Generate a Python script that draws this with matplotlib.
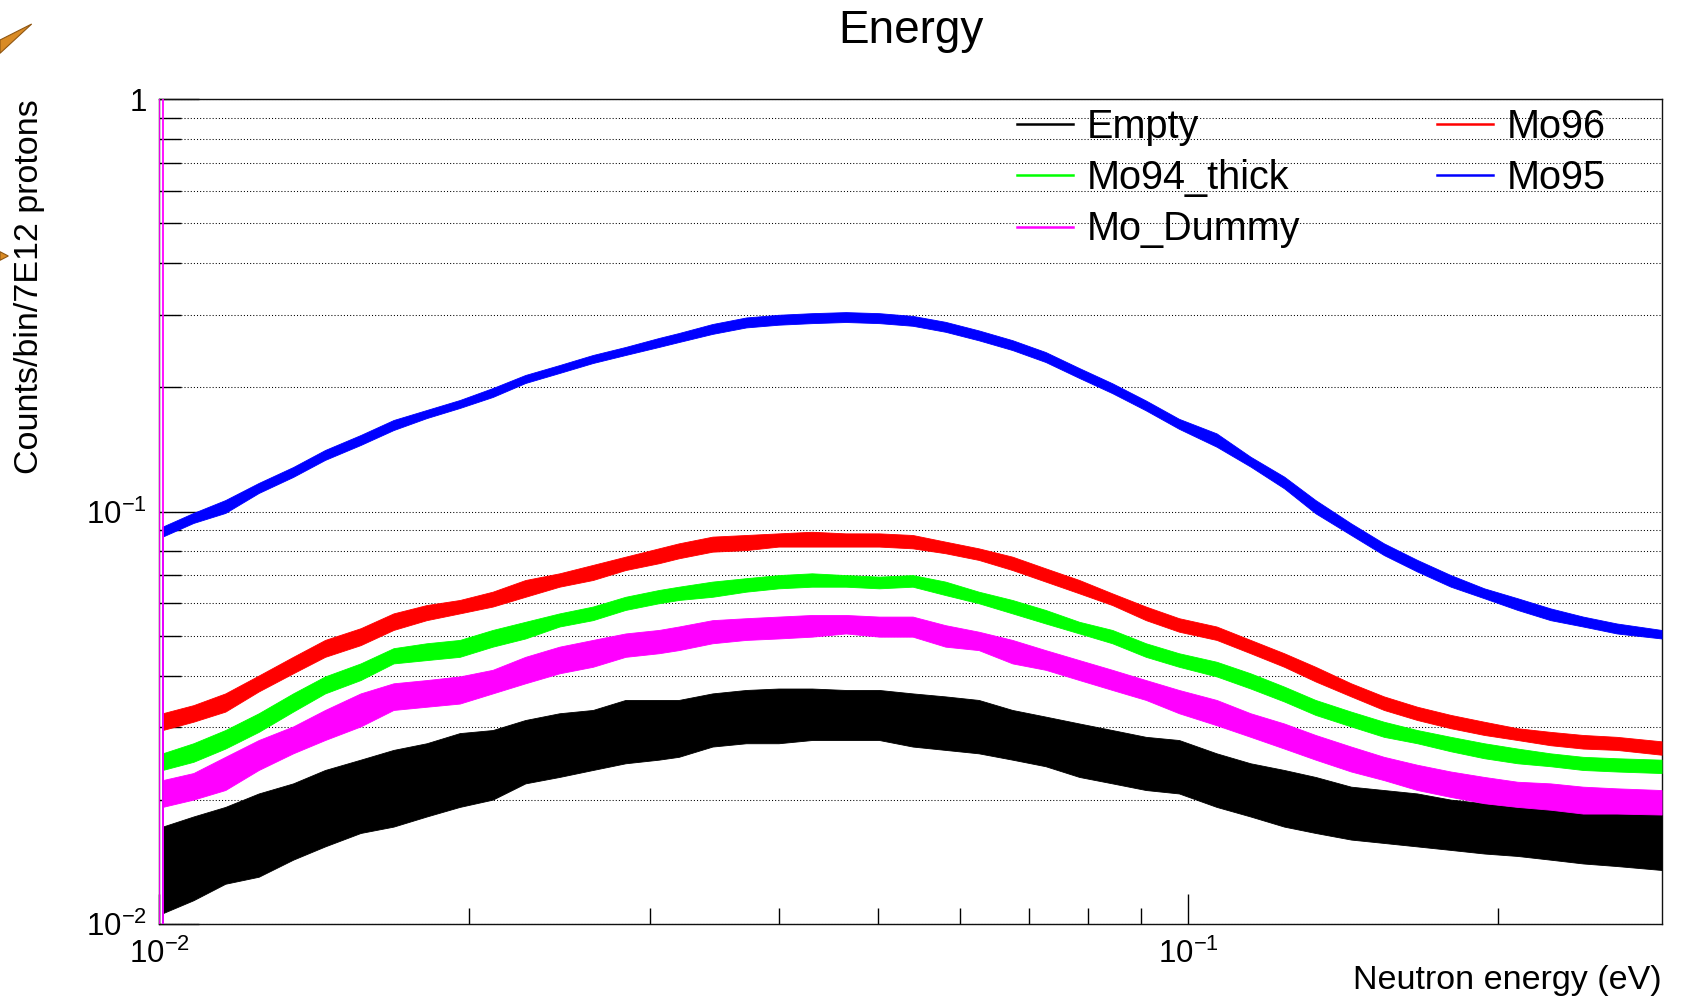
import matplotlib
matplotlib.use("Agg")
import matplotlib.pyplot as plt
import matplotlib.ticker as ticker
import numpy as np
from matplotlib.lines import Line2D
from matplotlib.patches import Polygon

plt.rcParams["font.family"] = ["Liberation Sans", "DejaVu Sans"]
plt.rcParams["mathtext.fontset"] = "custom"
plt.rcParams["mathtext.rm"] = "Liberation Sans"
plt.rcParams["mathtext.it"] = "Liberation Sans:italic"
plt.rcParams["mathtext.bf"] = "Liberation Sans:bold"

# Neutron energy sample points (eV)
energy = np.array([
    0.01008, 0.0108, 0.0116, 0.0125, 0.0135, 0.0145, 0.0157, 0.0169, 0.0182, 0.0196,
    0.0211, 0.0227, 0.0245, 0.0264, 0.0284, 0.0306, 0.0320,
    0.0345, 0.0372, 0.0400, 0.0431, 0.0465, 0.0501, 0.0540, 0.0581, 0.0626, 0.0675,
    0.0727, 0.0784, 0.0844, 0.0910, 0.0980,
    0.1066, 0.115, 0.124, 0.133, 0.144, 0.155, 0.167, 0.180, 0.194, 0.209,
    0.225, 0.242, 0.261, 0.2885,
])

# Band of the fluctuating counts per bin (lower / upper edge) for each target
empty_lo = [0.0106, 0.0114, 0.0125, 0.0130, 0.0143, 0.0154, 0.0166, 0.0172, 0.0182, 0.0192,
            0.0200, 0.0219, 0.0227, 0.0236, 0.0245, 0.0250, 0.0254,
            0.0269, 0.0274, 0.0274, 0.0279, 0.0279, 0.0279, 0.0269, 0.0264, 0.0259, 0.0250,
            0.0241, 0.0227, 0.0219, 0.0211, 0.0207,
            0.0192, 0.0182, 0.0172, 0.0166, 0.0160, 0.0157, 0.0154, 0.0151, 0.0148, 0.0146,
            0.0143, 0.0140, 0.0138, 0.0135]
empty_hi = [0.0172, 0.0182, 0.0192, 0.0207, 0.0219, 0.0236, 0.0250, 0.0264, 0.0274, 0.0290,
            0.0295, 0.0312, 0.0324, 0.0330, 0.0349, 0.0349, 0.0349,
            0.0362, 0.0369, 0.0372, 0.0372, 0.0369, 0.0369, 0.0362, 0.0356, 0.0349, 0.0330,
            0.0318, 0.0306, 0.0295, 0.0284, 0.0279,
            0.0259, 0.0245, 0.0236, 0.0227, 0.0215, 0.0211, 0.0207, 0.0200, 0.0196, 0.0192,
            0.0192, 0.0191, 0.0189, 0.0189]

mo94_lo = [0.0236, 0.0247, 0.0266, 0.0292, 0.0327, 0.0362, 0.0390, 0.0428, 0.0436, 0.0444,
           0.0470, 0.0492, 0.0526, 0.0545, 0.0577, 0.0599, 0.0610,
           0.0621, 0.0639, 0.0651, 0.0657, 0.0657, 0.0651, 0.0657, 0.0627, 0.0599, 0.0566,
           0.0535, 0.0506, 0.0479, 0.0444, 0.0420,
           0.0398, 0.0372, 0.0346, 0.0321, 0.0301, 0.0284, 0.0274, 0.0262, 0.0252, 0.0245,
           0.0241, 0.0236, 0.0234, 0.0232]
mo94_hi = [0.0259, 0.0274, 0.0295, 0.0324, 0.0362, 0.0398, 0.0428, 0.0466, 0.0479, 0.0488,
           0.0516, 0.0540, 0.0566, 0.0588, 0.0621, 0.0645, 0.0657,
           0.0676, 0.0689, 0.0701, 0.0708, 0.0701, 0.0695, 0.0701, 0.0676, 0.0639, 0.0610,
           0.0577, 0.0540, 0.0516, 0.0479, 0.0453,
           0.0432, 0.0405, 0.0376, 0.0349, 0.0327, 0.0309, 0.0295, 0.0284, 0.0274, 0.0266,
           0.0259, 0.0254, 0.0252, 0.0250]

dummy_lo = [0.0192, 0.0200, 0.0211, 0.0236, 0.0259, 0.0279, 0.0301, 0.0330, 0.0336, 0.0342,
            0.0362, 0.0383, 0.0405, 0.0420, 0.0444, 0.0453, 0.0461,
            0.0479, 0.0488, 0.0492, 0.0497, 0.0506, 0.0497, 0.0497, 0.0470, 0.0461, 0.0428,
            0.0413, 0.0390, 0.0369, 0.0349, 0.0324,
            0.0303, 0.0284, 0.0266, 0.0250, 0.0234, 0.0223, 0.0211, 0.0203, 0.0196, 0.0192,
            0.0189, 0.0185, 0.0185, 0.0184]
dummy_hi = [0.0223, 0.0232, 0.0254, 0.0279, 0.0301, 0.0330, 0.0362, 0.0383, 0.0390, 0.0398,
            0.0413, 0.0444, 0.0470, 0.0488, 0.0506, 0.0516, 0.0526,
            0.0545, 0.0551, 0.0556, 0.0561, 0.0561, 0.0556, 0.0556, 0.0530, 0.0511, 0.0488,
            0.0461, 0.0436, 0.0413, 0.0390, 0.0369,
            0.0349, 0.0324, 0.0306, 0.0287, 0.0269, 0.0254, 0.0243, 0.0234, 0.0227, 0.0221,
            0.0219, 0.0215, 0.0213, 0.0211]
# Mo_Dummy first bin (edges in eV, content) runs off the top of the frame
dummy_first_bin = [0.0100, 0.01008]
dummy_first_count = 1.5

mo96_lo = [0.0295, 0.0309, 0.0327, 0.0366, 0.0405, 0.0444, 0.0474, 0.0516, 0.0545, 0.0566,
           0.0588, 0.0621, 0.0657, 0.0682, 0.0721, 0.0749, 0.0770,
           0.0799, 0.0806, 0.0822, 0.0822, 0.0822, 0.0822, 0.0814, 0.0792, 0.0763, 0.0721,
           0.0676, 0.0633, 0.0593, 0.0545, 0.0511,
           0.0488, 0.0453, 0.0420, 0.0387, 0.0356, 0.0330, 0.0312, 0.0298, 0.0287, 0.0279,
           0.0271, 0.0266, 0.0264, 0.0257]
mo96_hi = [0.0324, 0.0339, 0.0362, 0.0400, 0.0444, 0.0488, 0.0521, 0.0566, 0.0593, 0.0610,
           0.0639, 0.0682, 0.0708, 0.0742, 0.0777, 0.0814, 0.0837,
           0.0869, 0.0877, 0.0885, 0.0893, 0.0885, 0.0885, 0.0877, 0.0845, 0.0814, 0.0777,
           0.0728, 0.0682, 0.0633, 0.0588, 0.0551,
           0.0526, 0.0488, 0.0453, 0.0420, 0.0383, 0.0356, 0.0336, 0.0321, 0.0309, 0.0298,
           0.0292, 0.0287, 0.0284, 0.0277]

mo95_lo = [0.0869, 0.0938, 0.0992, 0.1109, 0.1213, 0.1334, 0.1450, 0.1576, 0.1685, 0.1783,
           0.1896, 0.2050, 0.2168, 0.2292, 0.2397, 0.2507, 0.2577,
           0.2697, 0.2796, 0.2839, 0.2864, 0.2882, 0.2864, 0.2822, 0.2729, 0.2602, 0.2464,
           0.2305, 0.2108, 0.1937, 0.1759, 0.1587,
           0.1436, 0.1285, 0.1138, 0.0990, 0.0877, 0.0784, 0.0715, 0.0657, 0.0616, 0.0577,
           0.0545, 0.0526, 0.0506, 0.0492]
mo95_hi = [0.0919, 0.0992, 0.1066, 0.1173, 0.1282, 0.1410, 0.1533, 0.1667, 0.1763, 0.1864,
           0.1993, 0.2144, 0.2266, 0.2397, 0.2507, 0.2636, 0.2710,
           0.2850, 0.2956, 0.3001, 0.3028, 0.3046, 0.3028, 0.2982, 0.2885, 0.2750, 0.2604,
           0.2437, 0.2228, 0.2047, 0.1859, 0.1678,
           0.1547, 0.1358, 0.1215, 0.1066, 0.0936, 0.0837, 0.0763, 0.0701, 0.0651, 0.0616,
           0.0582, 0.0556, 0.0535, 0.0516]

labels = ["Empty", "Mo94_thick", "Mo_Dummy", "Mo96", "Mo95"]
colors = ["#000000", "#00ff00", "#ff00ff", "#ff0000", "#0000ff"]
bands = [(empty_lo, empty_hi), (mo94_lo, mo94_hi), (dummy_lo, dummy_hi),
         (mo96_lo, mo96_hi), (mo95_lo, mo95_hi)]

X_MIN, X_MAX = 0.01, 0.2886
Y_MIN, Y_MAX = 0.01, 1.0

W, H = 1691, 1001
fig = plt.figure(figsize=(W / 100, H / 100), dpi=100)
fig.patch.set_facecolor("white")
ax = fig.add_axes([159 / W, 1 - 923.7 / H, 1502.7 / W, 824.4 / H])
ax.set_xscale("log")
ax.set_yscale("log")
ax.set_xlim(X_MIN, X_MAX)
ax.set_ylim(Y_MIN, Y_MAX)

# histograms drawn in order, each rising from the bottom of the frame
for z, ((lo, hi), col) in enumerate(zip(bands, colors)):
    ax.fill_between(energy, lo, hi, color=col, lw=0.6, zorder=3 + z)
    ax.vlines(energy[0], Y_MIN, hi[0], color=col, lw=1.3, zorder=3 + z)

e0, e1 = dummy_first_bin
ax.plot([e0, e0, e1, e1], [Y_MIN, dummy_first_count, dummy_first_count, Y_MIN],
        color=colors[2], lw=1.3, zorder=9, clip_on=True)

# axes: ROOT-like ticks inside the frame, y grid on every tick
ax.yaxis.set_major_locator(ticker.LogLocator(base=10))
ax.yaxis.set_minor_locator(ticker.LogLocator(base=10, subs=np.arange(2, 10)))
ax.xaxis.set_major_locator(ticker.LogLocator(base=10))
ax.xaxis.set_minor_locator(ticker.LogLocator(base=10, subs=np.arange(2, 10)))


def _fmt(v, _):
    e = int(round(np.log10(v)))
    return "1" if e == 0 else r"$10^{%d}$" % e


ax.xaxis.set_major_formatter(ticker.FuncFormatter(_fmt))
ax.yaxis.set_major_formatter(ticker.FuncFormatter(_fmt))
ax.xaxis.set_minor_formatter(ticker.NullFormatter())
ax.yaxis.set_minor_formatter(ticker.NullFormatter())

ax.tick_params(axis="y", which="major", direction="in", length=29, width=1.0,
               left=True, right=False, labelsize=22.5, pad=9)
ax.tick_params(axis="y", which="minor", direction="in", length=16, width=1.0,
               left=True, right=False)
ax.tick_params(axis="x", which="major", direction="in", length=21.5, width=1.0,
               bottom=True, top=False, labelsize=22.5, pad=11)
ax.tick_params(axis="x", which="minor", direction="in", length=11.5, width=1.0,
               bottom=True, top=False)
ax.yaxis.grid(True, which="both", color="black", linestyle=(0, (1, 2)), linewidth=0.75)
ax.set_axisbelow(True)
for sp in ax.spines.values():
    sp.set_linewidth(1.0)
    sp.set_color("#111111")

# titles
fig.text(911 / W, 1 - 43.3 / H, "Energy", ha="center", va="baseline", fontsize=33)
fig.text(30 / W, 1 - 99 / H, "Counts/bin/7E12 protons", rotation=90,
         ha="center", va="top", fontsize=24.5)
fig.text(1661.7 / W, 1 - 980 / H, "Neutron energy (eV)", ha="right", va="center",
         fontsize=24.5)

# legend in two columns
handles = [Line2D([], [], color=c, lw=1.8) for c in colors]
leg_kw = dict(loc="upper left", bbox_transform=fig.transFigure, frameon=False,
              borderpad=0, borderaxespad=0, handlelength=1.42, handletextpad=0.35,
              labelspacing=0.34, fontsize=28.5)
leg1 = ax.legend(handles[:3], labels[:3], bbox_to_anchor=(1017 / W, 1 - 107.5 / H), **leg_kw)
ax.add_artist(leg1)
ax.legend(handles[3:], labels[3:], bbox_to_anchor=(1437 / W, 1 - 107.5 / H), **leg_kw)

# orange fragments in the top-left corner of the canvas
for pts in ([(0, 40), (31.7, 24), (0, 53.3)], [(0, 251.7), (8.3, 256), (0, 260.3)]):
    fig.patches.append(Polygon([(x / W, 1 - y / H) for x, y in pts], closed=True,
                               facecolor="#d98b26", edgecolor="#8f5612", lw=0.8,
                               transform=fig.transFigure, figure=fig))

fig.savefig("out.png", dpi=100)
